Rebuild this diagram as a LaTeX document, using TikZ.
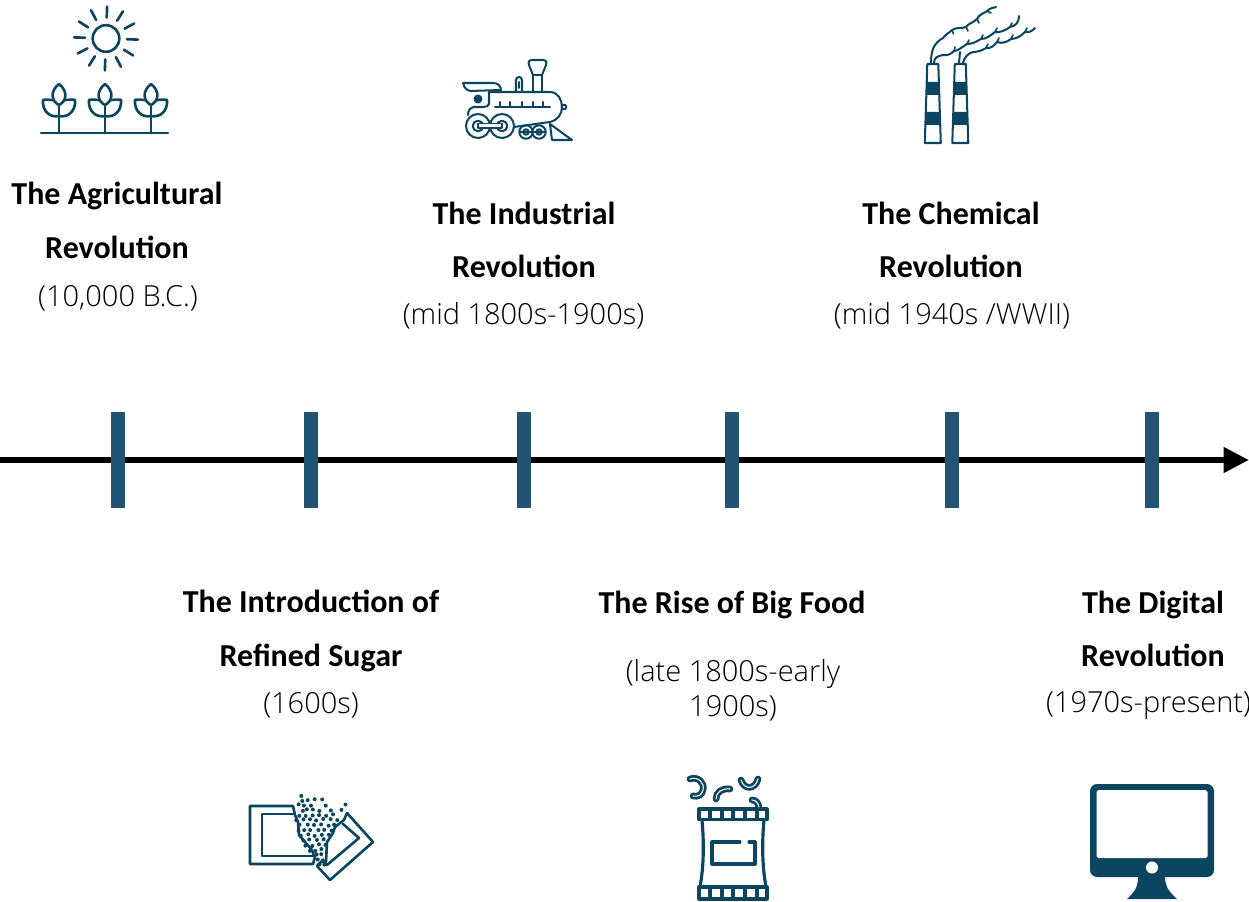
\documentclass[tikz,border=0pt]{standalone}
\usepackage{fontspec}
\setmainfont{Open Sans Light}
\usetikzlibrary{arrows.meta}
\definecolor{icon}{HTML}{0B4560}
\definecolor{tick}{HTML}{215473}
\newfontfamily\headfont{Carlito}
\tikzset{%
	eventname/.style={align=center,font=\headfont\fontsize{18.2}{30.3}\selectfont\bfseries,inner sep=0pt,anchor=center},
	eventdate/.style={align=center,font=\fontsize{16.5}{19.8}\selectfont,inner sep=0pt,anchor=center},
	ticker/.style={fill=tick,draw=none,minimum width=13.5*0.02cm,minimum height=96*0.02cm,inner sep=0pt},
	iconline/.style={draw=icon,line width=1.5pt,line cap=round,line join=round},
	thinline/.style={draw=icon,line width=1.15pt,line cap=round,line join=round},
	smokeline/.style={draw=icon,line width=1.15pt,line cap=round,line join=round},
	macaroni/.style={draw=icon,line width=1.6pt,double=white,double distance=.6pt,line cap=round},
}
\begin{document}
\begin{tikzpicture}[x=0.02cm,y=-0.02cm]
	\useasboundingbox (0,0) rectangle (1249,902);
	% timeline
	\coordinate (start) at (0,460);
	\coordinate (end) at (1249,460);
	\draw[line width=3.4pt,-{Triangle[length=14.5pt,width=14pt]}] (start) -- (end);
	\foreach \name/\x in {agri/118,sugar/311,indu/524,food/732,chem/952,digi/1152}
		\node[ticker] (\name) at (\x,460.5) {};
	% labels above
	\node[eventname] (agriname) at (117,220.5) {The Agricultural\\Revolution};
	\node[eventdate] (agridate) at (118,298) {(10,000 B.C.)};
	\node[eventname] (induname) at (524,240) {The Industrial\\Revolution};
	\node[eventdate] (indudate) at (523.5,316) {(mid 1800s-1900s)};
	\node[eventname] (chemname) at (951,240) {The Chemical\\Revolution};
	\node[eventdate] (chemdate) at (952,316) {(mid 1940s /WWII)};
	% labels below
	\node[eventname] (sugarname) at (311,631) {The Introduction of\\Refined Sugar};
	\node[eventdate] (sugardate) at (311,705) {(1600s)};
	\node[eventname] (foodname) at (732,605) {The Rise of Big Food};
	\node[eventdate] (fooddate) at (733,690) {(late 1800s-early\\1900s)};
	\node[eventname] (diginame) at (1153,629) {The Digital\\Revolution};
	\node[eventdate] (digidate) at (1148.5,705) {(1970s-present)};
	% sun and plants
	\draw[iconline] (106,38.5) circle (13.3);
	\foreach \a in {0,30,...,330}
		\draw[iconline] ({106+21*cos(\a+2)},{38.5+21*sin(\a+2)}) -- ({106+32*cos(\a+2)},{38.5+32*sin(\a+2)});
	\draw[iconline] (41,133) -- (168,133);
	\foreach \x in {59,105,151}{
		\draw[iconline] (\x,133) -- (\x,105);
		\draw[iconline] (\x,84) .. controls (\x-9,91) and (\x-8,101) .. (\x,105) .. controls (\x+8,101) and (\x+9,91) .. (\x,84);
		\draw[iconline] (\x-6,100) .. controls (\x-10,100) and (\x-14,99) .. (\x-16,100) .. controls (\x-17,111) and (\x-9,118) .. (\x,116);
		\draw[iconline] (\x+6,100) .. controls (\x+10,100) and (\x+14,99) .. (\x+16,100) .. controls (\x+17,111) and (\x+9,118) .. (\x,116);
	}
	% locomotive
	\draw[thinline] (463,83) -- (493,83) .. controls (498,83) and (501,86) .. (501,90) -- (470,91) .. controls (466,90) and (464,87) .. (463,83);
	\draw[thinline] (489,92) -- (489,104) .. controls (489,106) and (486,107) .. (483,107) -- (474,107) .. controls (470,108) and (468,110) .. (468,115);
	\draw[thinline] (489,92) -- (550,92) .. controls (558,92) and (562,100) .. (562,107) .. controls (562,114) and (558,120) .. (550,122);
	\fill[icon] (478,99) circle (4.5);
	\draw[thinline] (495,107) -- (550,107);
	\foreach \x in {500,510,522,533,543} \draw[thinline] (\x,107) -- (\x,102);
	\draw[thinline] (564,107) circle (2.3);
	\draw[thinline] (516,91) -- (516,80) .. controls (516,76) and (522,76) .. (522,80) -- (522,91);
	\draw[thinline] (519,82) -- (519,88);
	\draw[thinline] (533,92) -- (533,75) -- (542,75) -- (542,92);
	\draw[thinline] (533,75) -- (529,65) .. controls (528,62) and (529,60) .. (532,60) -- (543,60) .. controls (546,60) and (547,62) .. (546,65) -- (542,75);
	\foreach \x in {478,502}{
		\draw[thinline,fill=white] (\x,126) circle (12);
		\draw[thinline] (\x,126) circle (5.3);
	}
	\draw[thinline,line width=.9pt,fill=white] (478,123.5) rectangle (502,128);
	\foreach \x in {526,539}{
		\draw[thinline] (\x,132) circle (6.7);
		\draw[thinline] (\x,132) circle (2.7);
	}
	\draw[thinline,line width=.9pt] (520,132) -- (545,132);
	\draw[thinline] (514,127) -- (550,122);
	\draw[thinline] (550,124) -- (572,140) -- (552,140) -- (550,124);
	% factory
	\foreach \x in {932.8,960.3}{
		\draw[thinline] (\x-5.5,64) -- (\x+5.5,64) -- (\x+8,143) -- (\x-8,143) -- cycle;
		\fill[icon] (\x-6.2,82) -- (\x+6.2,82) -- (\x+6.7,95) -- (\x-6.7,95) -- cycle;
		\fill[icon] (\x-7.3,112) -- (\x+7.3,112) -- (\x+7.8,125) -- (\x-7.8,125) -- cycle;
	}
	\draw[smokeline] (931,63) .. controls (931,50) and (934,43) .. (943,38) .. controls (946,34) and (949,33) .. (952,30) .. controls (956,27) and (961,29) .. (966,27) .. controls (969,23) and (973,23) .. (977,19) .. controls (979,14) and (985,13) .. (987,11) .. controls (990,8) and (993,8) .. (996,7);
	\draw[smokeline] (934,63) .. controls (934,58) and (937,56) .. (943,55) .. controls (947,56) and (951,54) .. (954,51) .. controls (958,51) and (962,47) .. (967,44) .. controls (972,44) and (976,42) .. (981,39) .. controls (986,39) and (990,36) .. (995,32) .. controls (1000,33) and (1006,30) .. (1010,27) .. controls (1016,26) and (1019,22) .. (1019,16);
	\draw[smokeline] (959,63) -- (960,52);
	\draw[smokeline] (963,63) .. controls (964,58) and (968,53) .. (973,52) .. controls (978,52) and (983,50) .. (986,48) .. controls (990,49) and (994,46) .. (997,42) .. controls (1002,44) and (1007,42) .. (1011,39) .. controls (1016,39) and (1021,36) .. (1025,32) .. controls (1029,33) and (1032,31) .. (1035,28);
	\foreach \x/\y/\u/\v in {952/30/953.5/34,966/27/968/31,977/19/979/23,987/11/991/13,954/51/955/47,967/44/969/40,981/39/983/35,995/32/997/28,1010/27/1012/23,986/48/988/44,997/42/999/38,1011/39/1013/35,1025/32/1027/28}{
		\draw[smokeline,line width=.9pt] (\x,\y) -- (\u,\v);
	}
	% sugar packets
	\draw[iconline] (293,806) -- (250,806) -- (250,864) -- (313,864) -- (315,857);
	\draw[iconline] (294,814) -- (262,814) -- (262,856) -- (314,856);
	\draw[iconline] (293,806) -- (295,815) -- (298,822) -- (299,835) -- (312,850) -- (314,856);
	\draw[iconline] (347,813) -- (373,842) -- (330,880) -- (317,866) -- (322,861) -- (327,865) -- (359,838) -- (343,824);
	\draw[iconline] (347,813) -- (344,820) -- (335,827) -- (333,833) -- (327,842) -- (326,862);
	\pgfmathsetseed{7}
	\foreach \y/\xs in {796/{302},800/{302,308,315,322},805/{298,304,310,325,346},810/{302,307,313,320,330,341},815/{299,306,313,320,327,334},820/{297,303,310,317,324,331,338},825/{300,307,314,321,328,335},830/{298,304,311,318,325,332},835/{301,308,315,322,329},840/{303,310,317,324},845/{306,313,320,326},850/{310,316,322},855/{316,322},860/{317,323},865/{320,324}}{
		\foreach \x in \xs
			\fill[icon] ({\x+2*rnd-1},{\y+2*rnd-1}) circle (2);
	}
	% snack bag
	\draw[iconline,line width=1.8pt] (699,809) rectangle (767,819.5);
	\draw[iconline,line width=1.8pt] (699,887) rectangle (767,899);
	\foreach \x in {710,722,733,745,757}{
		\draw[iconline,line width=1.8pt] (\x,809) -- (\x,819.5);
		\draw[iconline,line width=1.8pt] (\x,887) -- (\x,899);
	}
	\draw[iconline,line width=1.8pt] (702,820) .. controls (704,842) and (704,865) .. (700,887);
	\draw[iconline,line width=1.8pt] (764,820) .. controls (762,842) and (762,865) .. (766,887);
	\draw[iconline,line width=1.8pt] (740,842) -- (712,842) -- (712,864) -- (755,864) -- (755,842) -- (749,842);
	\draw[macaroni] (690,779) .. controls (698,776) and (705,783) .. (703,790) .. controls (702,795) and (698,797) .. (693,796);
	\draw[macaroni] (716,799) .. controls (716,792) and (722,788) .. (730,789);
	\draw[macaroni] (741,780) .. controls (744,790) and (755,790) .. (758,779);
	\draw[macaroni] (752,800) .. controls (756,800) and (758,803) .. (759,807);
	% monitor
	\fill[icon,rounded corners=4pt] (1090,784) rectangle (1214,877);
	\fill[white,rounded corners=1pt] (1096.5,790) rectangle (1207.5,858);
	\fill[white] (1152,867.5) circle (6);
	\fill[icon] (1138,876) .. controls (1138,885) and (1137,890) .. (1127,899) -- (1177,899) .. controls (1167,890) and (1165,885) .. (1165,876) -- cycle;
\end{tikzpicture}
\end{document}
